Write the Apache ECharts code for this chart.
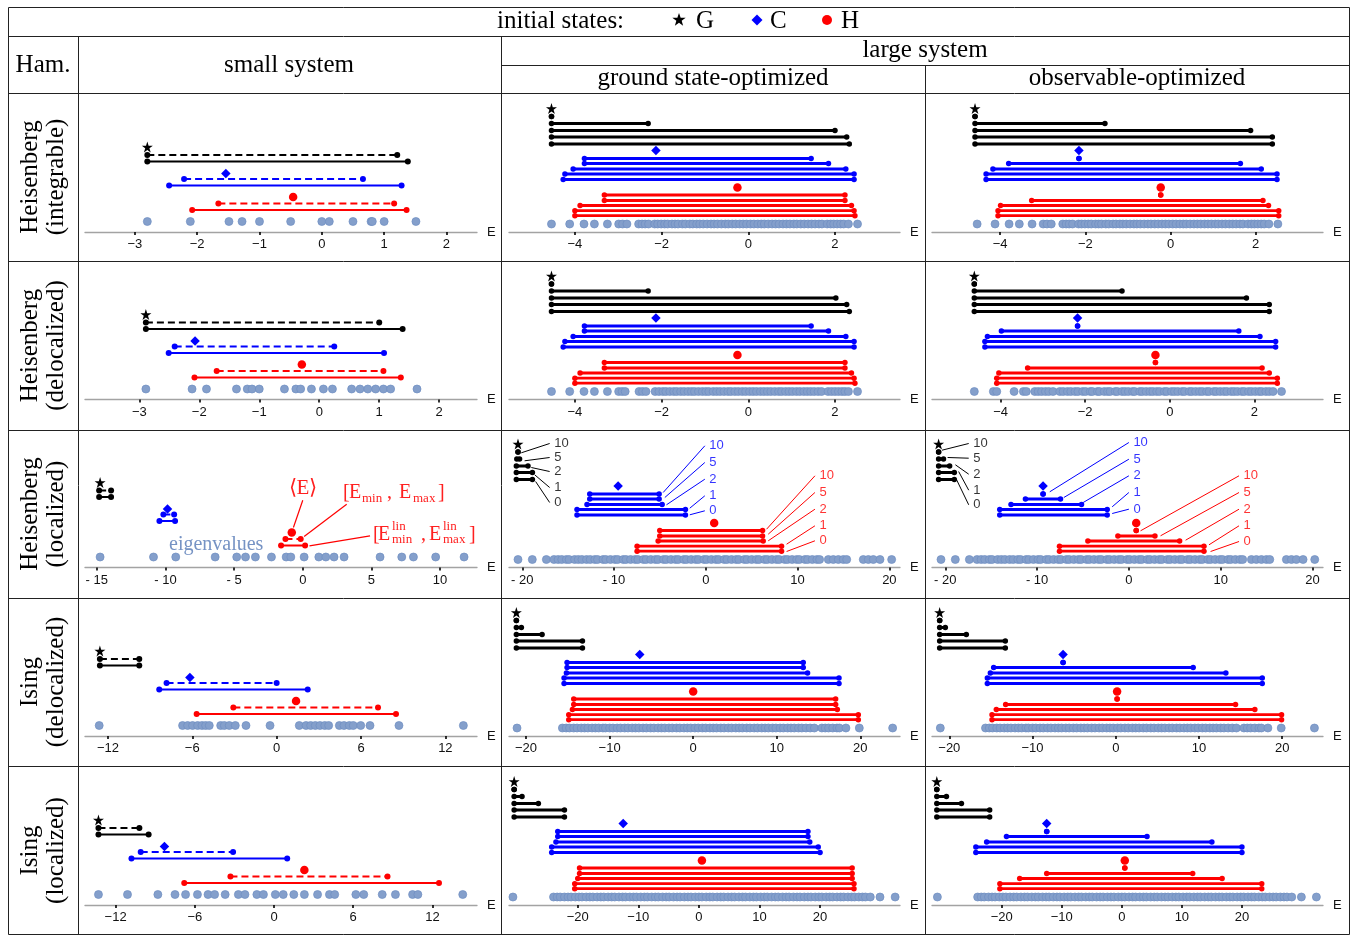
<!DOCTYPE html>
<html><head><meta charset="utf-8">
<script src="https://cdn.jsdelivr.net/npm/echarts@6/dist/echarts.min.js"></script>
<style>html,body{margin:0;padding:0;background:#fff}#c{width:1361px;height:936px}</style>
</head><body><div id="c"></div><script>
// ---------------- DATA ----------------
// tick values
const ticksS_H = [-3,-2,-1,0,1,2];
const ticksS_loc = [-15,-10,-5,0,5,10];
const ticksS_Is = [-12,-6,0,6,12];
const ticksL_H = [-4,-2,0,2];
const ticksL_big = [-20,-10,0,10,20];

// small system eigenvalues
const eigS1 = [-2.80,-2.11,-1.49,-1.28,-1.00,-0.50,0.00,0.12,0.50,0.79,0.81,1.00,1.51];
const eigS2 = [-2.89,-2.12,-1.88,-1.38,-1.20,-1.12,-1.00,-0.58,-0.39,-0.31,-0.13,0.07,0.22,0.54,0.68,0.81,0.94,1.07,1.19,1.63];
const eigS3 = [-14.76,-10.87,-9.25,-6.38,-4.81,-4.17,-3.45,-2.28,-1.21,-0.87,0.10,1.17,1.68,2.28,3.01,5.63,7.21,8.06,9.68,11.75];
const eigS4 = [-12.62,-6.69,-6.33,-5.98,-5.62,-5.31,-5.05,-4.79,-3.98,-3.72,-3.37,-2.94,-2.18,-0.47,1.61,2.09,2.42,2.75,3.08,3.42,3.70,4.46,4.79,5.17,5.45,5.98,6.64,8.70,13.28];
const eigS5 = [-13.3,-11.1,-8.8,-7.5,-6.7,-5.8,-5.0,-4.5,-3.7,-2.7,-2.2,-1.3,-0.8,0.1,0.7,1.5,2.3,3.3,4.2,4.6,6.2,6.8,8.2,9.2,10.5,10.9,14.3];

// large system eigenvalues (dense bands read as closely packed points)
const eigL1 = [-4.54,-4.12,-3.79,-3.55,-3.25,-2.99,-2.90,-2.80,-2.53,-2.45,-2.38,-2.30,-2.16,-2.09,-2.01,-1.93,-1.86,-1.76,-1.69,-1.62,-1.52,-1.45,-1.35,-1.28,-1.19,-1.12,-1.04,-0.95,-0.86,-0.79,-0.71,-0.62,-0.53,-0.46,-0.37,-0.29,-0.20,-0.12,-0.04,0.05,0.13,0.22,0.30,0.37,0.46,0.55,0.63,0.71,0.80,0.88,0.96,1.05,1.12,1.21,1.29,1.38,1.46,1.54,1.63,1.70,1.82,1.90,1.97,2.05,2.13,2.20,2.31,2.52];
const eigL2a = [-4.54,-4.12,-3.79,-3.55,-3.25,-2.99,-2.91,-2.84,-2.52,-2.44,-2.36,-2.15,-2.06,-1.97,-1.90,-1.81,-1.72,-1.65,-1.56,-1.48,-1.39,-1.31,-1.24,-1.15,-1.06,-0.98,-0.91,-0.81,-0.73,-0.65,-0.56,-0.47,-0.40,-0.31,-0.23,-0.14,-0.06,0.03,0.11,0.19,0.28,0.36,0.44,0.52,0.61,0.70,0.77,0.86,0.94,1.02,1.11,1.19,1.28,1.36,1.44,1.52,1.61,1.69,1.84,1.92,2.00,2.08,2.16,2.23,2.31,2.52];
const eigL2b = [-4.62,-4.17,-4.09,-3.68,-3.46,-3.39,-3.19,-3.11,-3.03,-2.94,-2.86,-2.76,-2.60,-2.52,-2.42,-2.34,-2.24,-2.17,-2.06,-1.99,-1.88,-1.83,-1.71,-1.66,-1.55,-1.47,-1.41,-1.29,-1.24,-1.13,-1.06,-0.98,-0.88,-0.83,-0.71,-0.65,-0.56,-0.47,-0.40,-0.31,-0.24,-0.13,-0.07,0.04,0.11,0.19,0.29,0.35,0.46,0.52,0.61,0.70,0.77,0.87,0.93,1.04,1.10,1.19,1.28,1.35,1.45,1.52,1.60,1.70,1.76,1.86,1.93,2.02,2.11,2.17,2.27,2.35,2.44,2.64];
const eigL3 = [-20.47,-18.91,-17.38,-16.55,-16.1,-15.7,-15.2,-14.9,-14.3,-13.9,-13.5,-13.0,-12.6,-12.1,-11.8,-11.2,-10.9,-10.4,-9.9,-9.6,-9.0,-8.7,-8.2,-7.7,-7.4,-6.8,-6.5,-6.0,-5.5,-5.2,-4.6,-4.3,-3.8,-3.3,-3.0,-2.4,-2.1,-1.6,-1.1,-0.8,-0.2,0.1,0.6,1.1,1.4,2.0,2.3,2.8,3.3,3.6,4.2,4.5,5.0,5.5,5.8,6.4,6.7,7.2,7.7,8.0,8.6,8.9,9.4,9.9,10.2,10.8,11.1,11.6,12.1,12.4,13.35,13.89,14.44,14.98,15.35,17.16,17.71,18.25,18.98,20.25];
const eigL4 = [-21.08,-15.65,-15.2,-14.8,-14.3,-13.9,-13.4,-13.0,-12.6,-12.1,-11.7,-11.3,-10.8,-10.5,-10.0,-9.6,-9.1,-8.7,-8.2,-7.8,-7.3,-6.9,-6.5,-6.0,-5.6,-5.1,-4.7,-4.2,-3.8,-3.4,-2.9,-2.5,-2.0,-1.6,-1.1,-0.7,-0.3,0.2,0.6,1.1,1.5,2.0,2.4,2.8,3.3,3.7,4.2,4.6,5.1,5.5,5.9,6.4,6.8,7.3,7.7,8.2,8.6,9.0,9.5,9.9,10.4,10.8,11.3,11.7,12.1,12.6,13.0,13.5,14.0,14.5,15.4,15.8,16.2,16.7,17.2,17.5,18.28,19.88,23.87];
const eigL5 = [-30.7,-24.0,-23.4,-22.9,-22.2,-21.6,-21.1,-20.4,-19.8,-19.3,-18.6,-18.0,-17.5,-16.8,-16.2,-15.7,-15.0,-14.4,-13.9,-13.2,-12.6,-12.1,-11.4,-10.8,-10.3,-9.6,-9.0,-8.5,-7.8,-7.2,-6.7,-6.0,-5.4,-4.9,-4.2,-3.6,-3.1,-2.4,-1.8,-1.3,-0.6,0.0,0.5,1.2,1.8,2.3,3.0,3.6,4.1,4.8,5.4,5.9,6.6,7.2,7.7,8.4,9.0,9.5,10.2,10.8,11.3,12.0,12.6,13.1,13.8,14.4,14.9,15.6,16.2,16.7,17.4,18.0,18.5,19.2,19.8,20.3,21.0,21.6,22.1,22.8,23.4,23.9,24.6,25.2,25.7,26.4,27.0,27.5,28.3,29.9,32.4];

// small system intervals: [ [Emin,Emax] (dashed), [Emin_lin,Emax_lin] (solid) ]
const S1_G = [[-2.80,1.21],[-2.80,1.38]];
const S1_C = [[-2.21,0.66],[-2.45,1.28]];
const S1_H = [[-1.66,1.16],[-2.08,1.36]];
const S1_mean = [-2.80,-1.54,-0.46];
const S2_G = [[-2.89,1.00],[-2.89,1.39]];
const S2_C = [[-2.41,0.25],[-2.51,1.08]];
const S2_H = [[-1.71,1.07],[-2.08,1.36]];
const S2_mean = [-2.89,-2.07,-0.29];
const S3_G = [[-14.83,-13.96],[-14.83,-13.96]];
const S3_C = [[-10.15,-9.37],[-10.44,-9.30]];
const S3_H = [[-1.26,-0.15],[-1.58,0.17]];
const S3_mean = [-14.76,-9.85,-0.80];
const S4_G = [[-12.57,-9.77],[-12.57,-9.77]];
const S4_C = [[-7.83,0.00],[-8.35,2.21]];
const S4_H = [[-3.08,7.21],[-5.69,8.49]];
const S4_mean = [-12.57,-6.17,1.38];
const S5_G = [[-13.3,-10.2],[-13.3,-9.5]];
const S5_C = [[-10.1,-3.1],[-10.8,1.0]];
const S5_H = [[-3.3,8.6],[-6.8,12.5]];
const S5_mean = [-13.3,-8.3,2.3];

// large system intervals, bond dimensions in order [10,5,2,1,0]
const bondDims = ['10','5','2','1','0'];
// ground state-optimized
const L1_G = [[-4.54,-4.54],[-4.54,-2.31],[-4.54,2.00],[-4.54,2.27],[-4.54,2.33]];
const L1_C = [[-3.78,1.45],[-3.78,1.85],[-4.04,2.25],[-4.23,2.44],[-4.27,2.44]];
const L1_H = [[-3.32,2.23],[-3.32,2.23],[-3.88,2.38],[-4.00,2.44],[-4.00,2.46]];
const L1_mean = [-4.54,-2.13,-0.25];
const L2_G = [[-4.54,-4.54],[-4.54,-2.31],[-4.54,2.02],[-4.54,2.27],[-4.54,2.33]];
const L2_C = [[-3.78,1.45],[-3.78,1.85],[-4.04,2.25],[-4.23,2.44],[-4.27,2.44]];
const L2_H = [[-3.32,2.23],[-3.32,2.23],[-3.88,2.38],[-4.00,2.44],[-4.00,2.46]];
const L2_mean = [-4.54,-2.13,-0.25];
const L3_G = [[-20.47,-20.47],[-20.6,-20.3],[-20.65,-19.38],[-20.65,-18.9],[-20.65,-18.9]];
const L3_C = [[-12.65,-5.09],[-12.65,-5.09],[-12.95,-4.76],[-14.04,-2.22],[-14.04,-2.22]];
const L3_H = [[-5.02,6.18],[-5.02,6.18],[-5.20,6.25],[-7.49,8.25],[-7.49,8.25]];
const L3_mean = [-20.47,-9.56,0.91];
const L4_G = [[-21.16,-21.16],[-21.16,-20.56],[-21.16,-18.08],[-21.16,-13.25],[-21.16,-13.25]];
const L4_C = [[-15.09,13.17],[-15.09,13.17],[-15.17,13.69],[-15.45,17.45],[-15.45,17.45]];
const L4_H = [[-14.29,17.05],[-14.29,17.05],[-14.45,17.25],[-14.89,19.76],[-14.89,19.76]];
const L4_mean = [-21.16,-6.39,0.00];
const L5_G = [[-30.5,-30.5],[-30.5,-29.2],[-30.5,-26.5],[-30.5,-22.2],[-30.5,-22.2]];
const L5_C = [[-23.3,18.0],[-23.3,18.0],[-23.6,18.3],[-24.3,19.7],[-24.3,20.0]];
const L5_H = [[-19.7,25.3],[-19.7,25.3],[-20.0,25.3],[-20.5,25.6],[-20.5,25.6]];
const L5_mean = [-30.5,-12.5,0.5];
// observable-optimized
const O1_G = [[-4.59,-4.59],[-4.59,-1.54],[-4.59,1.88],[-4.59,2.39],[-4.59,2.39]];
const O1_C = [[-2.15,-2.15],[-3.80,1.64],[-4.17,2.13],[-4.33,2.50],[-4.33,2.50]];
const O1_H = [[-0.23,-0.23],[-3.26,2.17],[-3.99,2.30],[-4.05,2.54],[-4.05,2.54]];
const O1_mean = [-4.59,-2.15,-0.23];
const O2_G = [[-4.62,-4.62],[-4.62,-1.13],[-4.62,1.81],[-4.62,2.35],[-4.62,2.35]];
const O2_C = [[-2.18,-2.18],[-3.98,1.63],[-4.31,2.13],[-4.37,2.50],[-4.37,2.50]];
const O2_H = [[-0.34,-0.34],[-3.36,2.18],[-4.04,2.35],[-4.09,2.54],[-4.09,2.54]];
const O2_mean = [-4.62,-2.18,-0.34];
const O3_G = [[-20.73,-20.73],[-20.73,-20.2],[-20.73,-19.53],[-20.73,-19.02],[-20.73,-19.02]];
const O3_C = [[-9.35,-9.35],[-11.27,-7.45],[-12.84,-5.16],[-14.07,-2.36],[-14.07,-2.36]];
const O3_H = [[0.80,0.80],[-1.20,2.84],[-4.47,5.53],[-7.56,8.18],[-7.56,8.18]];
const O3_mean = [-20.73,-9.35,0.80];
const O4_G = [[-21.16,-21.16],[-21.16,-20.48],[-21.16,-17.96],[-21.16,-13.27],[-21.16,-13.27]];
const O4_C = [[-6.33,-6.33],[-14.67,9.30],[-15.07,13.23],[-15.43,17.60],[-15.43,17.60]];
const O4_H = [[0.16,0.16],[-13.23,14.39],[-14.35,16.71],[-14.87,19.92],[-14.87,19.92]];
const O4_mean = [-21.16,-6.33,0.16];
const O5_G = [[-30.8,-30.8],[-30.8,-29.2],[-30.8,-26.7],[-30.8,-22.0],[-30.8,-22.0]];
const O5_C = [[-12.5,-12.5],[-19.2,4.2],[-22.5,15.0],[-24.3,20.0],[-24.3,20.0]];
const O5_H = [[0.5,0.5],[-12.5,11.8],[-17.0,16.7],[-20.3,23.3],[-20.3,23.3]];
const O5_mean = [-30.8,-12.5,0.5];

// text
const rowLabels = ['Heisenberg\n(integrable)','Heisenberg\n(delocalized)','Heisenberg\n(localized)','Ising\n(delocalized)','Ising\n(localized)'];

// ---------------- LAYOUT / STYLE ----------------
const SERIF = '"Liberation Serif","Times New Roman",serif';
const SANS = '"Liberation Sans",Arial,sans-serif';
const COL = {G:'#000000', C:'#0000ff', H:'#ff0000'};
const STAR = 'path://M50,0L61.2,34.5L97.6,34.5L68.2,55.9L79.4,90.5L50,69.1L20.6,90.5L31.8,55.9L2.4,34.5L38.8,34.5Z';
const DIAM = 'path://M50,0L100,50L50,100L0,50Z';
const colAxisPx = [[85,477],[509,900],[932,1323]];
const rowTop = [93,261,430,598,766];
const rowAxisY = [232,399.5,567.5,736,905];
const levS = {eig:10.5, mean:{G:85,C:58.5,H:35}, exact:{G:77,C:53,H:28.5}, lin:{G:70.5,C:46.5,H:22}};
const levL = {eig:8, mean:{G:123.5,C:81.5,H:44.5},
  bond:{G:[115.5,108.5,101.5,95,88], C:[73.5,68.5,63,58,52.5], H:[37,31.5,26.5,21.3,16.3]}};

const panelDefs = [
 [0,0,'S',[-3.80,2.49],ticksS_H,eigS1,S1_G,S1_C,S1_H,S1_mean],
 [1,0,'S',[-3.905,2.63],ticksS_H,eigS2,S2_G,S2_C,S2_H,S2_mean],
 [2,0,'S',[-15.86,12.69],ticksS_loc,eigS3,S3_G,S3_C,S3_H,S3_mean],
 [3,0,'S',[-13.63,14.25],ticksS_Is,eigS4,S4_G,S4_C,S4_H,S4_mean],
 [4,0,'S',[-14.32,15.38],ticksS_Is,eigS5,S5_G,S5_C,S5_H,S5_mean],
 [0,1,'L',[-5.52,3.50],ticksL_H,eigL1,L1_G,L1_C,L1_H,L1_mean],
 [1,1,'L',[-5.52,3.50],ticksL_H,eigL2a,L2_G,L2_C,L2_H,L2_mean],
 [2,1,'L',[-21.45,21.16],ticksL_big,eigL3,L3_G,L3_C,L3_H,L3_mean],
 [3,1,'L',[-22.04,24.75],ticksL_big,eigL4,L4_G,L4_C,L4_H,L4_mean],
 [4,1,'L',[-31.35,33.2],ticksL_big,eigL5,L5_G,L5_C,L5_H,L5_mean],
 [0,2,'L',[-5.60,3.58],ticksL_H,eigL1,O1_G,O1_C,O1_H,O1_mean],
 [1,2,'L',[-5.62,3.62],ticksL_H,eigL2b,O2_G,O2_C,O2_H,O2_mean],
 [2,2,'L',[-21.45,21.15],ticksL_big,eigL3,O3_G,O3_C,O3_H,O3_mean],
 [3,2,'L',[-22.08,24.9],ticksL_big,eigL4,O4_G,O4_C,O4_H,O4_mean],
 [4,2,'L',[-31.6,33.5],ticksL_big,eigL5,O5_G,O5_C,O5_H,O5_mean]
];

// leader annotations (in panel coordinates: x = E, y = px above axis)
const leadGS = {
 G:[[-20.11,114.7,-17.02,124],[-19.75,106.7,-17.02,110],[-19.02,100,-17.02,96],[-18.65,92.7,-17.02,80],[-18.55,86,-17.02,65]],
 C:[[-4.65,75,-0.11,121.7],[-4.47,70,-0.11,105],[-4.29,62.7,-0.11,88.3],[-1.75,59.3,-0.11,71.7],[-1.75,52.7,-0.11,56.7]],
 H:[[6.62,38.3,11.89,91.7],[6.8,33.3,11.89,75],[6.8,26.7,11.89,58.3],[8.8,23.3,11.89,41.7],[8.8,16,11.89,26.7]]
};
const leadOBS = {
 G:[[-20.36,117.3,-17.45,124],[-19.75,110,-17.45,109.3],[-18.9,102.7,-17.45,93.3],[-18.55,96,-17.45,77.3],[-18.8,88.3,-17.45,62.7]],
 C:[[-8.62,75.7,0,125],[-7.09,70,0,108.3],[-4.98,65,0,91.7],[-1.82,60.7,0,75],[-1.82,54,0,58.3]],
 H:[[1.27,36.7,12,91.7],[3.45,31.7,12,75],[6.18,27.3,12,58.3],[8.73,22.7,12,41.7],[8.9,16,12,26]]
};
const leadSmall = [[0,67.3,-0.68,40],[3.2,63.3,0.1,31],[4.9,31.7,0.49,21.7]];

// ---------------- BUILD ----------------
const grids=[], xAxes=[], yAxes=[], series=[];
panelDefs.forEach((p,i)=>{
  const [r,c,kind,range,ticks,eig,G,C,H,mean] = p;
  const h = rowAxisY[r]-rowTop[r];
  const [x0,x1] = colAxisPx[c];
  grids.push({left:x0, top:rowTop[r], width:x1-x0, height:h, containLabel:false});
  const loc = (r===2);
  xAxes.push({gridIndex:i, type:'value', min:range[0], max:range[1],
    axisLine:{show:true, onZero:false, lineStyle:{color:'#a3a3a3', width:1.3}},
    axisTick:{show:true, customValues:ticks, length:3, inside:false, lineStyle:{color:'#000', width:1.6}},
    axisLabel:{show:true, customValues:ticks, margin:6, fontSize:13, color:'#111', fontFamily:SANS,
      formatter:v=> v<0 ? (loc?'- ':'\u2212')+Math.abs(v) : ''+v},
    splitLine:{show:false},
    name:'E', nameLocation:'end', nameGap:10, nameTextStyle:{fontSize:13, color:'#111', fontFamily:SANS, verticalAlign:'middle'}
  });
  yAxes.push({gridIndex:i, type:'value', min:0, max:h, show:false});
  const ax = {xAxisIndex:i, yAxisIndex:i, silent:true, animation:false};
  series.push(Object.assign({type:'scatter', data:eig.map(v=>[v, kind==='S'?levS.eig:levL.eig]), symbolSize:8,
    itemStyle:{color:'#849fcb', borderColor:'#6f8ec1', borderWidth:0.7, opacity:1}, z:2}, ax));
  const st = {G,C,H};
  ['G','C','H'].forEach((k,ki)=>{
    const col = COL[k];
    if(kind==='S'){
      const lines = [[st[k][0], levS.exact[k], 'dashed'],[st[k][1], levS.lin[k], 'solid']];
      lines.forEach(([iv,y,t])=>{
        series.push(Object.assign({type:'line', data:[[iv[0],y],[iv[1],y]], symbol:'circle', symbolSize:6, showSymbol:true,
          lineStyle:{color:col, width:2, type: t==='dashed'?[7,4]:'solid'}, itemStyle:{color:col, opacity:1}, z:3}, ax));
      });
    } else {
      st[k].forEach((iv,bi)=>{
        const y = levL.bond[k][bi];
        series.push(Object.assign({type:'line', data:[[iv[0],y],[iv[1],y]], symbol:'circle', symbolSize:5.5, showSymbol:true,
          lineStyle:{color:col, width:2.8}, itemStyle:{color:col, opacity:1}, z:3}, ax));
      });
    }
  });
  const lev = kind==='S'?levS:levL;
  series.push(Object.assign({type:'scatter', z:4, itemStyle:{opacity:1}, data:[
    {value:[mean[0], lev.mean.G], symbol:STAR, symbolSize:11, itemStyle:{color:COL.G, opacity:1}},
    {value:[mean[1], lev.mean.C], symbol:DIAM, symbolSize:9.5, itemStyle:{color:COL.C, opacity:1}},
    {value:[mean[2], lev.mean.H], symbol:'circle', symbolSize:8.5, itemStyle:{color:COL.H, opacity:1}}
  ]}, ax));
  // leaders
  if(r===2 && c>0){
    const L = c===1?leadGS:leadOBS;
    ['G','C','H'].forEach(k=>{
      L[k].forEach((l,bi)=>{
        series.push(Object.assign({type:'line', data:[[l[0],l[1]],[l[2],l[3]]], symbol:'none',
          lineStyle:{color:COL[k], width:1}, z:2}, ax));
        series.push(Object.assign({type:'scatter', data:[[l[2],l[3]]], symbolSize:1, itemStyle:{color:'rgba(0,0,0,0)'},
          label:{show:true, position:'right', distance:4, formatter:bondDims[bi], color:COL[k], fontSize:13, fontFamily:SANS}, z:5}, ax));
      });
    });
  }
  if(r===2 && c===0){
    leadSmall.forEach(l=>{
      series.push(Object.assign({type:'line', data:[[l[0],l[1]],[l[2],l[3]]], symbol:'none',
        lineStyle:{color:COL.H, width:1.2}, z:2}, ax));
    });
  }
});

// ---------------- GRAPHICS (table, headers) ----------------
const g = [];
function ln(x1,y1,x2,y2,w){ g.push({type:'line', silent:true, shape:{x1,y1,x2,y2}, style:{stroke:'#222', lineWidth:w||1}}); }
function tx(x,y,s,opt){
  opt = opt||{};
  const size = opt.size||25;
  g.push({type:'text', silent:true, x, y, rotation:opt.rot||0, z:10,
    style:{text:s, font: size+'px '+(opt.fam||SERIF), fill:opt.color||'#000',
      align:opt.align||'center', textAlign:opt.align||'center', verticalAlign:'middle', textVerticalAlign:'middle',
      lineHeight:opt.lh||size}});
}
g.push({type:'rect', silent:true, shape:{x:8.5,y:7.5,width:1341,height:927}, style:{fill:'none', stroke:'#222', lineWidth:1}});
ln(8,36.5,1350,36.5); ln(8,93.5,1350,93.5); ln(501,65.5,1350,65.5);
[261.5,430.5,598.5,766.5].forEach(y=>ln(8,y,1350,y));
ln(78.5,36,78.5,935); ln(501.5,36,501.5,935); ln(925.5,65,925.5,935);

tx(497,21,'initial states:',{align:'left'});
// legend symbols
(function(){
  const pts=[]; const cx=679, cy=20;
  for(let k=0;k<10;k++){ const a=-Math.PI/2+k*Math.PI/5; const rr=k%2?2.8:7; pts.push([cx+rr*Math.cos(a), cy+rr*Math.sin(a)]); }
  g.push({type:'polygon', silent:true, shape:{points:pts}, style:{fill:'#000'}});
  g.push({type:'polygon', silent:true, shape:{points:[[757,14.5],[762.5,20],[757,25.5],[751.5,20]]}, style:{fill:'#0000ff'}});
  g.push({type:'circle', silent:true, shape:{cx:827,cy:20,r:5}, style:{fill:'#ff0000'}});
})();
tx(696,21,'G',{align:'left'}); tx(770,21,'C',{align:'left'}); tx(841,21,'H',{align:'left'});
tx(43,65,'Ham.'); tx(289,65,'small system'); tx(925,50,'large system');
tx(713,78,'ground state-optimized'); tx(1137,78,'observable-optimized');
rowLabels.forEach((s,r)=>{ tx(43,(rowTop[r]+(r<4?rowTop[r+1]:935))/2, s, {rot:Math.PI/2, lh:26}); });

// small-panel annotation texts (localized Heisenberg)
const RED='#ff2020';
tx(303,488,'\u27E8E\u27E9',{size:21,color:RED});
tx(343,493,'[',{size:20,color:RED,align:'left'}); tx(349,493,'E',{size:20,color:RED,align:'left'});
tx(362,499,'min',{size:13,color:RED,align:'left'}); tx(387,493,',',{size:20,color:RED,align:'left'});
tx(399,493,'E',{size:20,color:RED,align:'left'}); tx(413,499,'max',{size:13,color:RED,align:'left'});
tx(438,493,']',{size:20,color:RED,align:'left'});
tx(373,535,'[',{size:20,color:RED,align:'left'}); tx(378,535,'E',{size:20,color:RED,align:'left'});
tx(392,527,'lin',{size:13,color:RED,align:'left'}); tx(392,540,'min',{size:13,color:RED,align:'left'});
tx(421,535,',',{size:20,color:RED,align:'left'}); tx(429,535,'E',{size:20,color:RED,align:'left'});
tx(443,527,'lin',{size:13,color:RED,align:'left'}); tx(443,540,'max',{size:13,color:RED,align:'left'});
tx(469,535,']',{size:20,color:RED,align:'left'});
tx(169,545,'eigenvalues',{size:20,color:'#7693c4',align:'left'});

const chart = echarts.init(document.getElementById('c'), null, {renderer:'canvas'});
chart.setOption({animation:false, backgroundColor:'#fff', grid:grids, xAxis:xAxes, yAxis:yAxes, series, graphic:g});
</script></body></html>
